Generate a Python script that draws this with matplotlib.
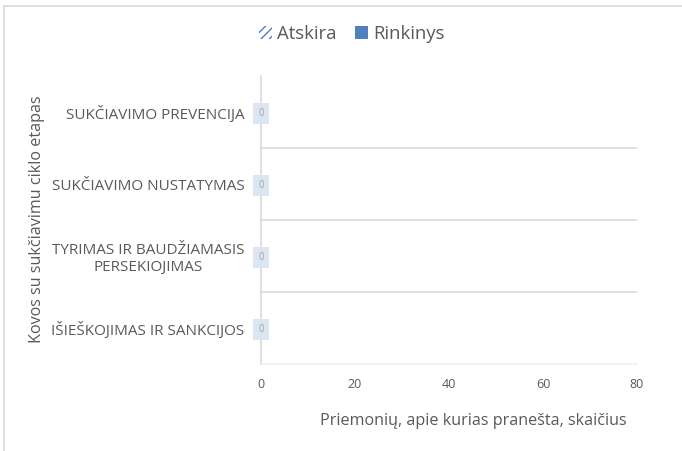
import matplotlib.pyplot as plt
from matplotlib.patches import Patch, Rectangle
import numpy as np

plt.rcParams['font.family'] = ['Open Sans', 'DejaVu Sans']

# data
stages = ["SUKČIAVIMO PREVENCIJA", "SUKČIAVIMO NUSTATYMAS",
          "TYRIMAS IR BAUDŽIAMASIS\nPERSEKIOJIMAS", "IŠIEŠKOJIMAS IR SANKCIJOS"]
atskira = [0, 0, 0, 0]
rinkinys = [0, 0, 0, 0]
x_ticks = [0, 20, 40, 60, 80]

GREY = "#595959"
BLUE = "#4f81bd"

W, H = 682, 451
fig = plt.figure(figsize=(W / 100, H / 100), dpi=100)
fig.patch.set_facecolor("white")

# chart border
fig.add_artist(Rectangle((4 / W, -0.01), 1.0, (H - 6) / H + 0.01, transform=fig.transFigure,
                         fill=False, edgecolor="#d9d9d9", linewidth=1.2))

ax = fig.add_axes([261 / W, (H - 364) / H, (637 - 261) / W, (364 - 76) / H])

y = np.arange(len(stages))
h = 0.3
ax.barh(y - h / 2, atskira, height=h, color="white", edgecolor=BLUE, hatch="////", linewidth=0)
ax.barh(y + h / 2, rinkinys, height=h, color=BLUE)

for yi, a, r in zip(y, atskira, rinkinys):
    ax.text(a + r, yi, str(a + r), ha="center", va="center_baseline", fontsize=7, color="#a6a6a6",
            bbox=dict(boxstyle="square,pad=0.55", facecolor="#dce6f2", edgecolor="none"))

ax.set_xlim(0, 80)
ax.set_xticks(x_ticks)
ax.set_ylim(len(stages) - 0.5, -0.5)
ax.set_yticks(y)
ax.set_yticklabels(stages, fontsize=11, color=GREY, ha="right", multialignment="center")
ax.tick_params(axis="y", length=0, pad=12)
ax.tick_params(axis="x", length=0, labelsize=9, labelcolor=GREY, pad=10)

ax.set_yticks(np.arange(len(stages) - 1) + 0.5, minor=True)
ax.tick_params(axis="y", which="minor", length=0)
ax.grid(axis="y", which="minor", color="#d9d9d9", linewidth=1.2)
ax.set_axisbelow(True)

for s in ["top", "right"]:
    ax.spines[s].set_visible(False)
ax.spines["left"].set_color("#d9d9d9")
ax.spines["left"].set_linewidth(1.2)
ax.spines["bottom"].set_color("#f0f0f0")
ax.spines["bottom"].set_linewidth(1.2)

ax.set_xlabel("Priemonių, apie kurias pranešta, skaičius", fontsize=11.6, color=GREY)
ax.xaxis.set_label_coords((473 - 261) / (637 - 261), -(421 - 364) / (364 - 76))
ax.xaxis.label.set_va("center")
fig.text(37 / W, 1 - 219 / H, "Kovos su sukčiavimu ciklo etapas", rotation=90,
         ha="center", va="center", fontsize=11.6, color=GREY)

handles = [Patch(facecolor="white", edgecolor=BLUE, hatch="////", linewidth=0, label="Atskira"),
           Patch(facecolor=BLUE, label="Rinkinys")]
leg = fig.legend(handles=handles, loc="center", bbox_to_anchor=(352 / W, 1 - 34 / H), ncol=2,
                 frameon=False, fontsize=13.3, handlelength=0.7, handleheight=0.7,
                 handletextpad=0.3, columnspacing=1.0)
for t in leg.get_texts():
    t.set_color(GREY)

fig.savefig("out.png", dpi=100)
